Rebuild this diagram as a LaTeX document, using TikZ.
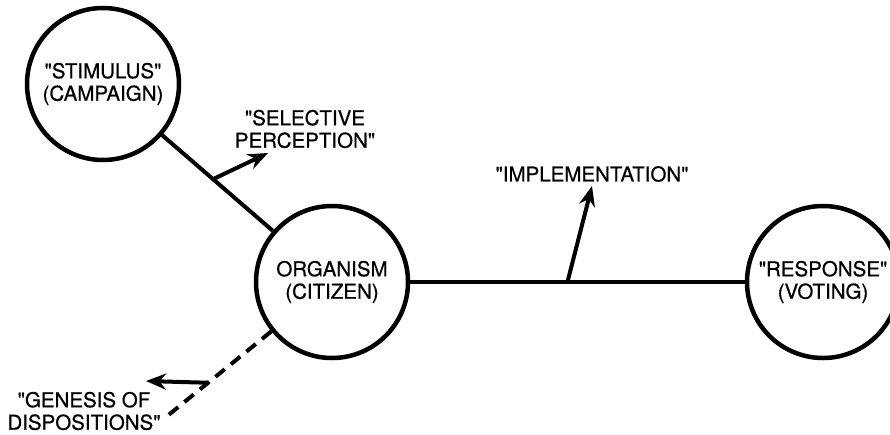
\documentclass[tikz,border=0pt]{standalone}
\usepackage{fontspec}
\setmainfont{TeX Gyre Heros}[Ligatures=TeXOff, FakeBold=0.6]
\usetikzlibrary{arrows.meta}
\tikzset{
  stage/.style = {circle, draw, line width = 4.5pt, minimum size = 152pt, inner sep = 0pt, align = center},
  lbl/.style = {align = center, inner sep = 0pt},
  arr/.style = {line width = 4pt, -{Stealth[length = 20pt, width = 16pt]}}
}
\begin{document}
\begin{tikzpicture}[x = 1pt, y = -1pt, font = \fontsize{20.5}{22.5}\selectfont]
            \clip (0, 0) rectangle (890, 434);
            \node[stage] (stim) at (103, 84) {"STIMULUS"\\(CAMPAIGN)};
            \node[stage] (org) at (332, 282) {ORGANISM\\(CITIZEN)};
            \node[stage] (resp) at (823, 282) {"RESPONSE"\\(VOTING)};
            \node[lbl] (sel) at (305, 129) {"SELECTIVE\\PERCEPTION"};
            \node[lbl] (impl) at (592, 174) {"IMPLEMENTATION"};
            \node[lbl] (gen) at (84, 411) {"GENESIS OF\\DISPOSITIONS"};
            \coordinate (genend) at (166, 417);
            \coordinate (seltip) at (268, 153);
            \coordinate (impltip) at (592, 186);
            \coordinate (gentip) at (146, 381);
            \draw[line width = 4pt] (stim) -- (org) coordinate[pos = 0.46] (selfoot);
            \draw[line width = 4pt] (org) -- (resp) coordinate[pos = 0.47] (implfoot);
            \draw[line width = 4pt, dash pattern = on 12pt off 8pt] (org) -- (genend) coordinate[pos = 0.6] (genfoot);
            \draw[arr] (selfoot) -- (seltip);
            \draw[arr] (implfoot) -- (impltip);
            \draw[arr] (genfoot) -- (gentip);
        \end{tikzpicture}
\end{document}
